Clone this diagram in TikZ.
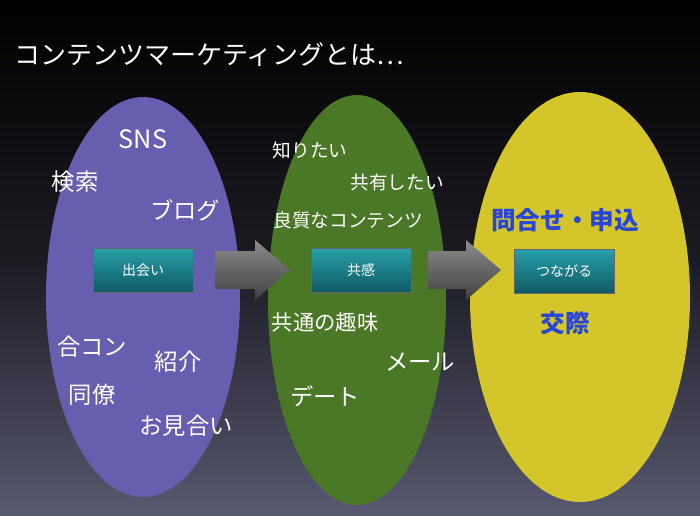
\documentclass[tikz,border=0pt]{standalone}
\usepackage{fontspec}
\setmainfont{Noto Sans CJK JP}
\definecolor{bgbot}{RGB}{88,88,112}
\definecolor{ppl}{RGB}{104,94,176}
\definecolor{grn}{RGB}{74,120,38}
\definecolor{ylw}{RGB}{212,198,42}
\definecolor{bluet}{RGB}{40,70,215}
\definecolor{tealA}{RGB}{40,160,170}
\definecolor{tealB}{RGB}{15,90,100}
\newcommand{\fs}[1]{\fontsize{#1}{#1}\selectfont}
\begin{document}
\begin{tikzpicture}[x=0.75pt,y=-0.75pt,
  word/.style={text=white,font=\fs{17.5}},
  wordS/.style={text=white,font=\fs{14}},
  blueword/.style={text=bluet,font=\fs{18.5}\bfseries},
  box/.style={draw=black!60,top color=tealA,bottom color=tealB,text=white,font=\fs{10.5},minimum width=75pt,minimum height=33pt},
  blk/.style={top color=gray!90,bottom color=gray!50!black}]
\useasboundingbox (0,0) rectangle (700,515);
\shade[top color=black,bottom color=bgbot,middle color=black!70!bgbot] (0,0) rectangle (700,515);
\node[anchor=west,text=white,font=\fs{19.5}] (title) at (10,55) {コンテンツマーケティングとは…};
\fill[ppl] (143,297) ellipse (97 and 200);
\fill[grn] (357,300) ellipse (89 and 205);
\fill[ylw] (580,297) ellipse (110 and 205);
\shade[blk] (215,251) -- (255,251) -- (255,240) -- (290,270) -- (255,300) -- (255,289) -- (215,289) -- cycle;
\shade[blk] (428,251) -- (466,251) -- (466,240) -- (501,270) -- (466,300) -- (466,289) -- (428,289) -- cycle;
\node[box] (b1) at (143,270) {出会い};
\node[box] (b2) at (361,270) {共感};
\node[box] (b3) at (564,271) {つながる};
\node[word,font=\fs{19}] (w1) at (143,139) {SNS};
\node[word] (w2) at (75,182) {検索};
\node[word] (w3) at (185,210) {ブログ};
\node[word] (w4) at (92,347) {合コン};
\node[word] (w5) at (178,362) {紹介};
\node[word] (w6) at (92,395) {同僚};
\node[word] (w7) at (186,426) {お見合い};
\node[wordS] (g1) at (310,150) {知りたい};
\node[wordS] (g2) at (397,182) {共有したい};
\node[wordS] (g3) at (348,220) {良質なコンテンツ};
\node[word,font=\fs{16}] (g4) at (325,322) {共通の趣味};
\node[word] (g5) at (420,362) {メール};
\node[word] (g6) at (325,396) {デート};
\node[blueword] (y1) at (565,220) {問合せ・申込};
\node[blueword] (y2) at (565,323) {交際};
\end{tikzpicture}
\end{document}
